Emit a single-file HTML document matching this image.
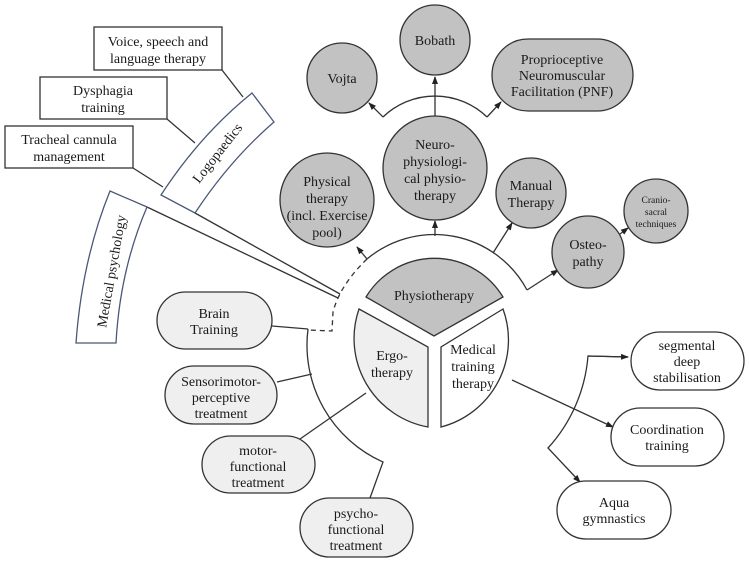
<!DOCTYPE html>
<html><head><meta charset="utf-8"><style>
body{margin:0;background:#fff}
svg{display:block}
text{font-family:"Liberation Serif",serif;font-size:14px;fill:#1a1a1a;text-anchor:middle}
</style></head><body>
<svg width="749" height="562" viewBox="0 0 749 562" xmlns="http://www.w3.org/2000/svg">
<defs><marker id="a" markerWidth="8" markerHeight="8" refX="7" refY="4" orient="auto" markerUnits="userSpaceOnUse"><path d="M0,1 L8,4 L0,7 Z" fill="#222"/></marker></defs>
<g stroke="#333" stroke-width="1.3" fill="none">
<!-- left boxes -->
<rect x="94" y="27" width="128" height="43" fill="#fff"/>
<rect x="40" y="77" width="127" height="42" fill="#fff"/>
<rect x="5" y="126" width="128" height="42" fill="#fff"/>
<line x1="222" y1="70" x2="243" y2="97"/>
<line x1="167" y1="119" x2="195" y2="143"/>
<line x1="133" y1="168" x2="163" y2="187"/>
<line x1="195" y1="213" x2="340" y2="294"/>
<line x1="147" y1="207" x2="338" y2="298"/>
<path d="M161,195 Q200,135 252,93 L274,122 Q230,160 195,213 Z" fill="#fff" stroke="#4a5878"/>
<path d="M110,191 Q82,260 76,343 L116,343 Q120,270 147,207 Z" fill="#fff" stroke="#4a5878"/>
<!-- arcs -->
<path d="M367,259 A105 105 0 0 1 527,290"/>
<path d="M367,259 Q340,285 333,312 L332,331 L308,330" stroke-dasharray="5,4"/>
<path d="M308,329 A128 128 0 0 0 383,462 L370,498"/>
<path d="M628,357 L588,356 A155 155 0 0 1 548,448 L580,482" marker-end="url(#a)"/>
<line x1="588" y1="356" x2="628" y2="357" marker-end="url(#a)"/>
<line x1="512" y1="380" x2="613" y2="427" marker-end="url(#a)"/>
<line x1="272" y1="326" x2="308" y2="329"/>
<line x1="277" y1="382" x2="312" y2="374"/>
<line x1="300" y1="439" x2="366" y2="393"/>
<!-- top connectors -->
<line x1="435" y1="236" x2="435" y2="221" marker-end="url(#a)"/>
<line x1="367" y1="259" x2="357" y2="247" marker-end="url(#a)"/>
<path d="M493,253 L512,223" marker-end="url(#a)"/>
<path d="M527,290 L558,270" marker-end="url(#a)"/>
<line x1="620" y1="234" x2="628" y2="228" marker-end="url(#a)"/>
<line x1="435" y1="117" x2="435" y2="77" marker-end="url(#a)"/>
<path d="M383,117 A75 75 0 0 1 487,117"/>
<line x1="383" y1="117" x2="369" y2="103" marker-end="url(#a)"/>
<line x1="487" y1="117" x2="501" y2="102" marker-end="url(#a)"/>
<!-- circles -->
<g fill="#c2c2c2">
<circle cx="435" cy="40" r="35"/>
<circle cx="342" cy="78" r="35"/>
<rect x="492" y="39" width="141" height="72" rx="36"/>
<circle cx="435" cy="168" r="52"/>
<circle cx="327" cy="200" r="47"/>
<circle cx="531" cy="193" r="35"/>
<circle cx="588" cy="252" r="36"/>
<circle cx="656" cy="211" r="32"/>
<path d="M366,297 A80 80 0 0 1 503,297 L434,336 Z"/>
</g>
<g fill="#efefef">
<rect x="157" y="292" width="115" height="57" rx="28.5"/>
<rect x="165" y="366" width="112" height="58" rx="29"/>
<rect x="202" y="436" width="113" height="57" rx="28.5"/>
<rect x="300" y="498" width="113" height="59" rx="29.5"/>
<path d="M359,309 L428,347 L428,427 A90 90 0 0 1 359,309 Z"/>
</g>
<g fill="#fff">
<path d="M503,309 L441,347 L441,427 A90 90 0 0 0 503,309 Z"/>
<rect x="631" y="332" width="113" height="58" rx="29"/>
<rect x="611" y="408" width="113" height="58" rx="29"/>
<rect x="557" y="481" width="114" height="58" rx="29"/>
</g>
</g>
<text x="158" y="46">Voice, speech and</text><text x="158" y="63">language therapy</text>
<text x="103" y="95">Dysphagia</text><text x="103" y="112">training</text>
<text x="69" y="144">Tracheal cannula</text><text x="69" y="161">management</text>
<text transform="translate(221,156) rotate(-52)">Logopaedics</text>
<text transform="translate(116,272) rotate(-80)">Medical psychology</text>
<text x="435" y="45">Bobath</text>
<text x="342" y="83">Vojta</text>
<text x="562" y="64">Proprioceptive</text><text x="562" y="80">Neuromuscular</text><text x="562" y="96">Facilitation (PNF)</text>
<text x="435" y="149">Neuro-</text><text x="435" y="166">physiologi-</text><text x="435" y="183">cal physio-</text><text x="435" y="200">therapy</text>
<text x="327" y="186">Physical</text><text x="327" y="203">therapy</text><text x="327" y="220">(incl. Exercise</text><text x="327" y="237">pool)</text>
<text x="531" y="190">Manual</text><text x="531" y="207">Therapy</text>
<text x="588" y="249">Osteo-</text><text x="588" y="266">pathy</text>
<text x="656" y="203" style="font-size:9.5px">Cranio-</text><text x="656" y="215" style="font-size:9.5px">sacral</text><text x="656" y="227" style="font-size:9.5px">techniques</text>
<text x="434" y="300">Physiotherapy</text>
<text x="392" y="360">Ergo-</text><text x="392" y="377">therapy</text>
<text x="473" y="354">Medical</text><text x="473" y="371">training</text><text x="473" y="388">therapy</text>
<text x="214" y="318">Brain</text><text x="214" y="334">Training</text>
<text x="221" y="386">Sensorimotor-</text><text x="221" y="402">perceptive</text><text x="221" y="418">treatment</text>
<text x="258" y="455">motor-</text><text x="258" y="471">functional</text><text x="258" y="487">treatment</text>
<text x="356" y="518">psycho-</text><text x="356" y="534">functional</text><text x="356" y="550">treatment</text>
<text x="687" y="350">segmental</text><text x="687" y="366">deep</text><text x="687" y="382">stabilisation</text>
<text x="667" y="434">Coordination</text><text x="667" y="450">training</text>
<text x="614" y="507">Aqua</text><text x="614" y="523">gymnastics</text>
</svg>
</body></html>
